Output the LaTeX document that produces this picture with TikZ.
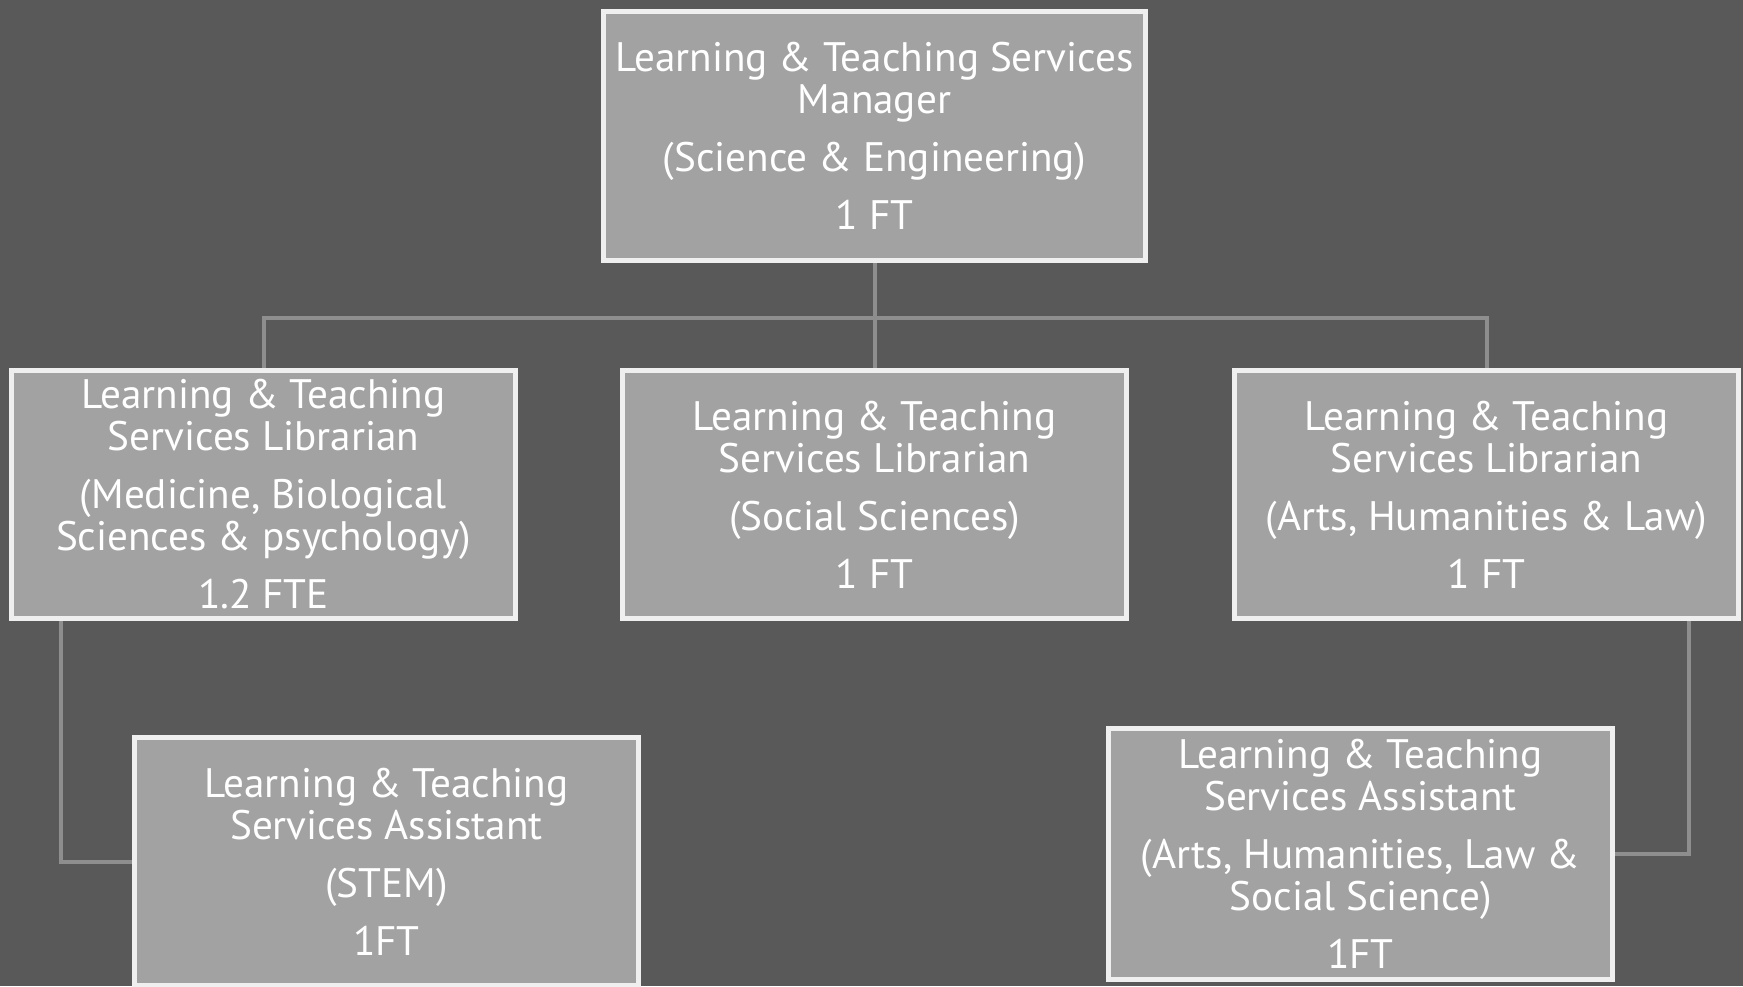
\documentclass[tikz,border=0pt]{standalone}
\usepackage{fontspec}
\setmainfont{PT Sans}
\usepackage{tikz}
\usetikzlibrary{positioning}

\definecolor{bggray}{HTML}{595959}
\definecolor{boxfill}{HTML}{A2A2A2}
\definecolor{boxline}{HTML}{EFEFEF}
\definecolor{linkgray}{HTML}{8E8E8E}

\tikzset{
	post/.style={draw=boxline, line width=2.5pt, fill=boxfill, text=white,
		align=center, inner sep=0pt, font=\fontsize{20.6}{21}\selectfont,
		minimum width=252pt, minimum height=124pt},
	link/.style={draw=linkgray, line width=2pt}
}

\begin{document}
\begin{tikzpicture}[x=0.5pt, y=-0.5pt]

\path [use as bounding box, fill=bggray] (0,0) rectangle (1743,986);

\node [post, minimum width=271pt, minimum height=124.5pt] (1) at (874.5,136) {
	Learning \& Teaching Services \\
	Manager \\[8pt]
	(Science \& Engineering) \\[8pt]
	1 FT
};

\node [post, below=52.5pt of 1] (3) {
	Learning \& Teaching \\
	Services Librarian \\[8pt]
	(Social Sciences) \\[8pt]
	1 FT
};

\node [post, left=51pt of 3] (2) {
	Learning \& Teaching \\
	Services Librarian \\[8pt]
	(Medicine, Biological \\
	Sciences \& psychology) \\[8pt]
	1.2 FTE
};

\node [post, right=51.5pt of 3] (4) {
	Learning \& Teaching \\
	Services Librarian \\[8pt]
	(Arts, Humanities \& Law) \\[8pt]
	1 FT
};

\node [post, below=57pt of 2, xshift=61.5pt] (5) {
	Learning \& Teaching \\
	Services Assistant \\[8pt]
	(STEM) \\[8pt]
	1FT
};

\node [post, below=52.5pt of 4, xshift=-63pt, minimum height=125.5pt] (6) {
	Learning \& Teaching \\
	Services Assistant \\[8pt]
	(Arts, Humanities, Law \& \\
	Social Science) \\[8pt]
	1FT
};

\path [link] (1.south) -- ++(0,55) -| (2.north);
\path [link] (1.south) -- ++(0,55) -| (4.north);
\path [link] (1.south) -- (3.north);
\path [link] ([xshift=26pt]2.south west) |- (5.west);
\path [link] ([xshift=-26pt]4.south east) |- (6.east);

\end{tikzpicture}
\end{document}
